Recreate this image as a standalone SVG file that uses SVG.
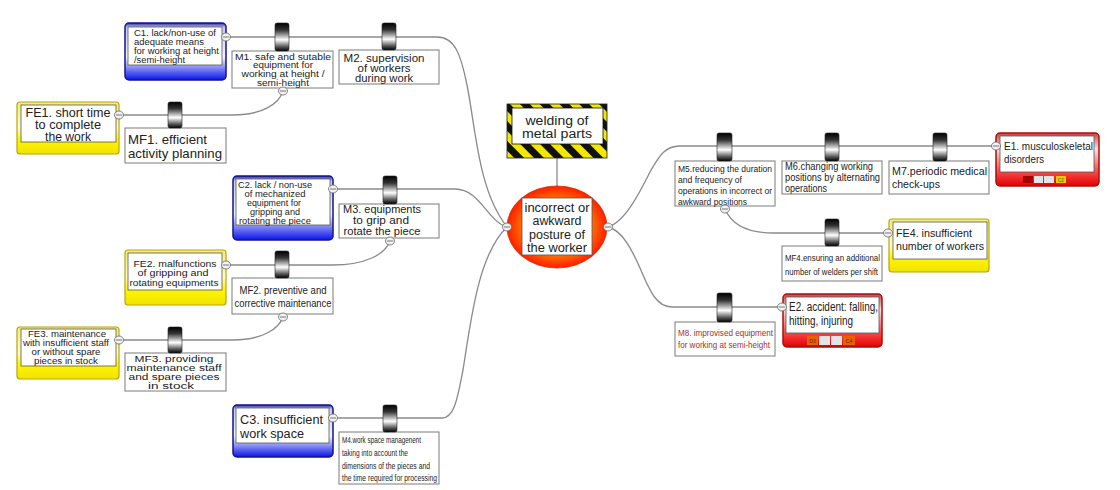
<svg xmlns="http://www.w3.org/2000/svg" width="1120" height="490" viewBox="0 0 1120 490">
<style>
text{font-family:"Liberation Sans",Arial,sans-serif;fill:#222}
.c{text-anchor:middle}
.box{fill:#fff;stroke:#7a7a7a;stroke-width:1}
.inner{fill:#fff;stroke:#555;stroke-width:0.8}
.blue{fill:url(#gBlue);stroke:#14148c;stroke-width:1.5}
.yel{fill:url(#gYel);stroke:#b8a800;stroke-width:1.2}
.red{fill:url(#gRed);stroke:#a81010;stroke-width:1.5}
.cyl{fill:url(#gCyl);stroke:#222;stroke-width:0.6}
.con{fill:none;stroke:#8a8a8a;stroke-width:1.3}
.tog{fill:#f2f2f2;stroke:#666;stroke-width:0.8}
.togm{stroke:#555;stroke-width:0.8}
</style>
<defs>
<linearGradient id="gCyl" x1="0" y1="0" x2="0" y2="1">
<stop offset="0" stop-color="#000"/><stop offset="0.25" stop-color="#333"/><stop offset="0.6" stop-color="#fff"/><stop offset="0.85" stop-color="#555"/><stop offset="1" stop-color="#000"/>
</linearGradient>
<linearGradient id="gBlue" x1="0" y1="0" x2="0" y2="1">
<stop offset="0" stop-color="#2a2aa0"/><stop offset="0.08" stop-color="#c8c8f0"/><stop offset="0.6" stop-color="#f4f4ff"/><stop offset="1" stop-color="#0814e8"/>
</linearGradient>
<linearGradient id="gYel" x1="0" y1="0" x2="0" y2="1">
<stop offset="0" stop-color="#f3ec80"/><stop offset="0.5" stop-color="#fffbd0"/><stop offset="0.72" stop-color="#fff600"/><stop offset="1" stop-color="#f0e200"/>
</linearGradient>
<linearGradient id="gRed" x1="0" y1="0" x2="0" y2="1">
<stop offset="0" stop-color="#d04040"/><stop offset="0.3" stop-color="#fbe0e0"/><stop offset="0.7" stop-color="#ff5050"/><stop offset="1" stop-color="#e00000"/>
</linearGradient>
<radialGradient id="gCore" cx="0.5" cy="0.5" r="0.5">
<stop offset="0" stop-color="#ffb000"/><stop offset="0.6" stop-color="#ff8a00"/><stop offset="1" stop-color="#ff1e00"/>
</radialGradient>
<pattern id="stripes" patternUnits="userSpaceOnUse" width="14" height="14" patternTransform="rotate(-45)">
<rect width="14" height="14" fill="#f4e800"/><rect width="7" height="14" fill="#111"/>
</pattern>
</defs>

<g id="connectors">
<path class="con" d="M226,37 L437,37 C455,37 461,55 467,85 C476,130 478,190 507,227"/>
<path class="con" d="M333,189 L455,189 C480,189 488,222 507,227"/>
<path class="con" d="M333,418 L442,418 C455,418 458,395 463,370 C471,320 478,255 507,227"/>
<path class="con" d="M119,115 L233,115 C262,115 279,104 283,91"/>
<path class="con" d="M226,265 L333,265 C364,265 385,255 390,241"/>
<path class="con" d="M119,340 L233,340 C262,340 279,329 283,317"/>
<path class="con" d="M608,227 C625,222 640,192 650,172 C660,154 666,146 680,146 L996,146"/>
<path class="con" d="M725,209 C731,223 746,233 773,233 L888,233"/>
<path class="con" d="M608,227 C622,230 632,250 640,268 C650,292 657,307 672,307 L782,307"/>
<path class="con" d="M557,158 L557,186"/>
</g>

<g id="C1">
<rect class="blue" x="125" y="23" width="101" height="57" rx="4"/>
<rect class="inner" x="128" y="27" width="94" height="38"/>
<text font-size="8.5" x="134" y="36" textLength="82" lengthAdjust="spacingAndGlyphs">C1. lack/non-use of</text>
<text font-size="8.5" x="134" y="45" textLength="70" lengthAdjust="spacingAndGlyphs">adequate means</text>
<text font-size="8.5" x="134" y="54" textLength="85" lengthAdjust="spacingAndGlyphs">for working at height</text>
<text font-size="8.5" x="134" y="62.5" textLength="51" lengthAdjust="spacingAndGlyphs">/semi-height</text>
<ellipse class="tog" cx="226" cy="37" rx="4.5" ry="4"/><path class="togm" d="M223,37 H229"/>
</g>

<g id="M1">
<rect class="box" x="232" y="51" width="101" height="37"/>
<rect class="cyl" x="275" y="23" width="14" height="28" rx="2"/>
<text class="c" font-size="8.5" x="283" y="59.5" textLength="96" lengthAdjust="spacingAndGlyphs">M1. safe and sutable</text>
<text class="c" font-size="8.5" x="283" y="68.2" textLength="60" lengthAdjust="spacingAndGlyphs">equipment for</text>
<text class="c" font-size="8.5" x="283" y="76.9" textLength="83" lengthAdjust="spacingAndGlyphs">working at height /</text>
<text class="c" font-size="8.5" x="283" y="85.6" textLength="52" lengthAdjust="spacingAndGlyphs">semi-height</text>
<ellipse class="tog" cx="283" cy="91" rx="4.5" ry="4"/><path class="togm" d="M280,91 H286"/>
</g>

<g id="M2">
<rect class="box" x="339" y="50" width="100" height="34"/>
<rect class="cyl" x="382" y="23" width="14" height="27" rx="2"/>
<text class="c" font-size="10" x="384" y="61.5" textLength="81" lengthAdjust="spacingAndGlyphs">M2. supervision</text>
<text class="c" font-size="10" x="384" y="71.8" textLength="53" lengthAdjust="spacingAndGlyphs">of workers</text>
<text class="c" font-size="10" x="384" y="82.3" textLength="58" lengthAdjust="spacingAndGlyphs">during work</text>
</g>

<g id="FE1">
<rect class="yel" x="17" y="102" width="102" height="52" rx="3"/>
<rect class="inner" x="21" y="105" width="95" height="37"/>
<text class="c" font-size="12" x="68" y="116.5" textLength="85" lengthAdjust="spacingAndGlyphs">FE1. short time</text>
<text class="c" font-size="12" x="68" y="128.5" textLength="66" lengthAdjust="spacingAndGlyphs">to complete</text>
<text class="c" font-size="12" x="68" y="140.5" textLength="46" lengthAdjust="spacingAndGlyphs">the work</text>
<ellipse class="tog" cx="119" cy="115" rx="4.5" ry="4"/><path class="togm" d="M116,115 H122"/>
</g>

<g id="MF1">
<rect class="box" x="125" y="128" width="101" height="35"/>
<rect class="cyl" x="168" y="102" width="14" height="26" rx="2"/>
<text font-size="13.5" x="128" y="143.5" textLength="79" lengthAdjust="spacingAndGlyphs">MF1. efficient</text>
<text font-size="13.5" x="128" y="157.5" textLength="94" lengthAdjust="spacingAndGlyphs">activity planning</text>
</g>

<g id="welding">
<rect x="507" y="104" width="100" height="54" fill="url(#stripes)" stroke="#222" stroke-width="0.8"/>
<rect x="512" y="108" width="91" height="36" fill="#fff" stroke="#111" stroke-width="0.8"/>
<text class="c" font-size="12.5" x="557" y="124.5" textLength="63" lengthAdjust="spacingAndGlyphs">welding of</text>
<text class="c" font-size="12.5" x="557" y="137.5" textLength="70" lengthAdjust="spacingAndGlyphs">metal parts</text>
</g>

<g id="core">
<ellipse cx="557" cy="227" rx="50" ry="41" fill="url(#gCore)" stroke="#d83000" stroke-width="0.8"/>
<rect x="522" y="198" width="70" height="57" fill="#fff" stroke="#555" stroke-width="0.8"/>
<text class="c" font-size="12" x="557" y="211.5" textLength="65" lengthAdjust="spacingAndGlyphs">incorrect or</text>
<text class="c" font-size="12" x="557" y="225.2" textLength="49" lengthAdjust="spacingAndGlyphs">awkward</text>
<text class="c" font-size="12" x="557" y="238.6" textLength="56" lengthAdjust="spacingAndGlyphs">posture of</text>
<text class="c" font-size="12" x="557" y="251.5" textLength="60" lengthAdjust="spacingAndGlyphs">the worker</text>
<ellipse class="tog" cx="507" cy="227" rx="4.5" ry="4"/><path class="togm" d="M504,227 H510"/>
<ellipse class="tog" cx="608" cy="227" rx="4.5" ry="4"/><path class="togm" d="M605,227 H611"/>
</g>

<g id="C2">
<rect class="blue" x="233" y="176" width="100" height="64" rx="4"/>
<rect class="inner" x="236" y="179" width="94" height="46"/>
<text class="c" font-size="8.2" x="275" y="188" textLength="74" lengthAdjust="spacingAndGlyphs">C2. lack / non-use</text>
<text class="c" font-size="8.2" x="275" y="197" textLength="61" lengthAdjust="spacingAndGlyphs">of mechanized</text>
<text class="c" font-size="8.2" x="274" y="206" textLength="54" lengthAdjust="spacingAndGlyphs">equipment for</text>
<text class="c" font-size="8.2" x="275" y="215" textLength="50" lengthAdjust="spacingAndGlyphs">gripping and</text>
<text class="c" font-size="8.2" x="275" y="223.5" textLength="72" lengthAdjust="spacingAndGlyphs">rotating the piece</text>
<ellipse class="tog" cx="333" cy="189" rx="4.5" ry="4"/><path class="togm" d="M330,189 H336"/>
</g>

<g id="M3">
<rect class="box" x="339" y="204" width="100" height="34"/>
<rect class="cyl" x="383" y="176" width="14" height="28" rx="2"/>
<text class="c" font-size="10" x="382" y="213" textLength="78" lengthAdjust="spacingAndGlyphs">M3. equipments</text>
<text class="c" font-size="10" x="381" y="223.5" textLength="56" lengthAdjust="spacingAndGlyphs">to grip and</text>
<text class="c" font-size="10" x="382" y="234.5" textLength="77" lengthAdjust="spacingAndGlyphs">rotate the piece</text>
<ellipse class="tog" cx="390" cy="241" rx="4.5" ry="4"/><path class="togm" d="M387,241 H393"/>
</g>

<g id="FE2">
<rect class="yel" x="125" y="250" width="101" height="55" rx="3"/>
<rect class="inner" x="128" y="253" width="94" height="37"/>
<text class="c" font-size="9" x="175" y="266.5" textLength="83" lengthAdjust="spacingAndGlyphs">FE2. malfunctions</text>
<text class="c" font-size="9" x="173" y="276" textLength="71" lengthAdjust="spacingAndGlyphs">of gripping and</text>
<text class="c" font-size="9" x="174" y="285.5" textLength="89" lengthAdjust="spacingAndGlyphs">rotating equipments</text>
<ellipse class="tog" cx="226" cy="265" rx="4.5" ry="4"/><path class="togm" d="M223,265 H229"/>
</g>

<g id="MF2">
<rect class="box" x="232" y="278" width="101" height="36"/>
<rect class="cyl" x="275" y="251" width="14" height="27" rx="2"/>
<text class="c" font-size="10.5" x="283" y="294" textLength="87" lengthAdjust="spacingAndGlyphs">MF2. preventive and</text>
<text class="c" font-size="10.5" x="283" y="307" textLength="97" lengthAdjust="spacingAndGlyphs">corrective maintenance</text>
<ellipse class="tog" cx="283" cy="317" rx="4.5" ry="4"/><path class="togm" d="M280,317 H286"/>
</g>

<g id="FE3">
<rect class="yel" x="17" y="327" width="102" height="52" rx="3"/>
<rect class="inner" x="21" y="329" width="95" height="37"/>
<text class="c" font-size="8.4" x="67" y="337" textLength="78" lengthAdjust="spacingAndGlyphs">FE3. maintenance</text>
<text class="c" font-size="8.4" x="66" y="346" textLength="86" lengthAdjust="spacingAndGlyphs">with insufficient staff</text>
<text class="c" font-size="8.4" x="66" y="355" textLength="69" lengthAdjust="spacingAndGlyphs">or without spare</text>
<text class="c" font-size="8.4" x="66" y="364" textLength="64" lengthAdjust="spacingAndGlyphs">pieces in stock</text>
<ellipse class="tog" cx="119" cy="340" rx="4.5" ry="4"/><path class="togm" d="M116,340 H122"/>
</g>

<g id="MF3">
<rect class="box" x="125" y="353" width="101" height="38"/>
<rect class="cyl" x="168" y="327" width="14" height="26" rx="2"/>
<text class="c" font-size="9.2" x="174" y="361.5" textLength="79" lengthAdjust="spacingAndGlyphs">MF3. providing</text>
<text class="c" font-size="9.2" x="174" y="370.8" textLength="95" lengthAdjust="spacingAndGlyphs">maintenance staff</text>
<text class="c" font-size="9.2" x="174" y="380.1" textLength="91" lengthAdjust="spacingAndGlyphs">and spare pieces</text>
<text class="c" font-size="9.2" x="171" y="389.4" textLength="46" lengthAdjust="spacingAndGlyphs">in stock</text>
</g>

<g id="C3">
<rect class="blue" x="233" y="405" width="100" height="52" rx="4"/>
<rect class="inner" x="236" y="408" width="93" height="35"/>
<text font-size="13.5" x="240" y="424" textLength="83" lengthAdjust="spacingAndGlyphs">C3. insufficient</text>
<text font-size="13.5" x="240" y="437.5" textLength="64" lengthAdjust="spacingAndGlyphs">work space</text>
<ellipse class="tog" cx="333" cy="418" rx="4.5" ry="4"/><path class="togm" d="M330,418 H336"/>
</g>

<g id="M4">
<rect class="box" x="339" y="432" width="100" height="52"/>
<rect class="cyl" x="383" y="405" width="14" height="27" rx="2"/>
<text font-size="9.5" x="342" y="443" textLength="79" lengthAdjust="spacingAndGlyphs">M4.work space managenent</text>
<text font-size="9.5" x="342" y="456" textLength="66" lengthAdjust="spacingAndGlyphs">taking into account the</text>
<text font-size="9.5" x="342" y="469" textLength="88" lengthAdjust="spacingAndGlyphs">dimensions of the pieces and</text>
<text font-size="9.5" x="342" y="481" textLength="95" lengthAdjust="spacingAndGlyphs">the time required for processing</text>
</g>

<g id="M5">
<rect class="box" x="675" y="161" width="100" height="45"/>
<rect class="cyl" x="717" y="133" width="15" height="28" rx="2"/>
<text font-size="9.5" x="678" y="171.5" textLength="94" lengthAdjust="spacingAndGlyphs">M5.reducing the duration</text>
<text font-size="9.5" x="678" y="182.5" textLength="64" lengthAdjust="spacingAndGlyphs">and frequency of</text>
<text font-size="9.5" x="678" y="193.5" textLength="94" lengthAdjust="spacingAndGlyphs">operations in incorrect or</text>
<text font-size="9.5" x="678" y="204.5" textLength="69" lengthAdjust="spacingAndGlyphs">awkward positions</text>
<ellipse class="tog" cx="725" cy="209" rx="4.5" ry="4"/><path class="togm" d="M722,209 H728"/>
</g>

<g id="M6">
<rect class="box" x="782" y="161" width="100" height="33"/>
<rect class="cyl" x="825" y="133" width="14" height="28" rx="2"/>
<text font-size="10" x="785" y="169.5" textLength="88" lengthAdjust="spacingAndGlyphs">M6.changing working</text>
<text font-size="10" x="785" y="180.5" textLength="95" lengthAdjust="spacingAndGlyphs">positions by alternating</text>
<text font-size="10" x="785" y="191.5" textLength="42" lengthAdjust="spacingAndGlyphs">operations</text>
</g>

<g id="M7">
<rect class="box" x="889" y="161" width="100" height="33"/>
<rect class="cyl" x="933" y="133" width="14" height="28" rx="2"/>
<text font-size="11.5" x="892" y="175" textLength="95" lengthAdjust="spacingAndGlyphs">M7.periodic medical</text>
<text font-size="11.5" x="892" y="188" textLength="48" lengthAdjust="spacingAndGlyphs">check-ups</text>
</g>

<g id="E1">
<rect class="red" x="996" y="133" width="103" height="53" rx="4"/>
<rect class="inner" x="1000" y="136" width="94" height="36"/>
<text font-size="11.5" x="1004" y="150" textLength="89" lengthAdjust="spacingAndGlyphs">E1. musculoskeletal</text>
<text font-size="11.5" x="1004" y="163" textLength="40" lengthAdjust="spacingAndGlyphs">disorders</text>
<rect x="1023" y="176" width="10" height="7" fill="#a80000"/>
<rect x="1034" y="176" width="9" height="7" fill="#e4e4e4"/>
<rect x="1044" y="176" width="10" height="7" fill="#e4e4e4"/>
<rect x="1056" y="176" width="10" height="7" fill="#e8cc00"/>
<text class="c" font-size="4.5" x="1061" y="181.5" style="fill:#6a4a00">C2</text>
<ellipse class="tog" cx="996" cy="146" rx="4.5" ry="4"/><path class="togm" d="M993,146 H999"/>
</g>

<g id="FE4">
<rect class="yel" x="889" y="219" width="100" height="53" rx="3"/>
<rect class="inner" x="893" y="222" width="94" height="37"/>
<text font-size="11.5" x="896" y="237" textLength="76" lengthAdjust="spacingAndGlyphs">FE4. insufficient</text>
<text font-size="11.5" x="896" y="250" textLength="88" lengthAdjust="spacingAndGlyphs">number of workers</text>
<ellipse class="tog" cx="888" cy="233" rx="4.5" ry="4"/><path class="togm" d="M885,233 H891"/>
</g>

<g id="MF4">
<rect class="box" x="782" y="246" width="100" height="35"/>
<rect class="cyl" x="825" y="219" width="14" height="27" rx="2"/>
<text font-size="9.5" x="785" y="260.5" textLength="95" lengthAdjust="spacingAndGlyphs">MF4.ensuring an additional</text>
<text font-size="9.5" x="785" y="274.5" textLength="93" lengthAdjust="spacingAndGlyphs">number of welders per shift</text>
</g>

<g id="M8">
<rect class="box" x="675" y="322" width="100" height="34"/>
<rect class="cyl" x="717" y="293" width="15" height="29" rx="2"/>
<text font-size="9.5" x="678" y="335.5" textLength="95" lengthAdjust="spacingAndGlyphs" style="fill:#a03030">M8. improvised equipment</text>
<text font-size="9.5" x="678" y="347.5" textLength="92" lengthAdjust="spacingAndGlyphs" style="fill:#a03030">for working at semi-height</text>
</g>

<g id="E2">
<rect class="red" x="783" y="294" width="99" height="53" rx="4"/>
<rect class="inner" x="786" y="297" width="93" height="36"/>
<text font-size="12" x="789" y="311" textLength="89" lengthAdjust="spacingAndGlyphs">E2. accident: falling,</text>
<text font-size="12" x="789" y="325" textLength="64" lengthAdjust="spacingAndGlyphs">hitting, injuring</text>
<rect x="807" y="336" width="11" height="9" fill="#e86000"/>
<rect x="819" y="336" width="11" height="9" fill="#e4e4e4"/>
<rect x="831" y="336" width="11" height="9" fill="#e4e4e4"/>
<rect x="843" y="336" width="12" height="9" fill="#e86000"/>
<text class="c" font-size="5" x="812.5" y="342.5" style="fill:#6a2000">D3</text>
<text class="c" font-size="5" x="849" y="342.5" style="fill:#6a2000">C4</text>
<ellipse class="tog" cx="782" cy="307" rx="4.5" ry="4"/><path class="togm" d="M779,307 H785"/>
</g>
</svg>
